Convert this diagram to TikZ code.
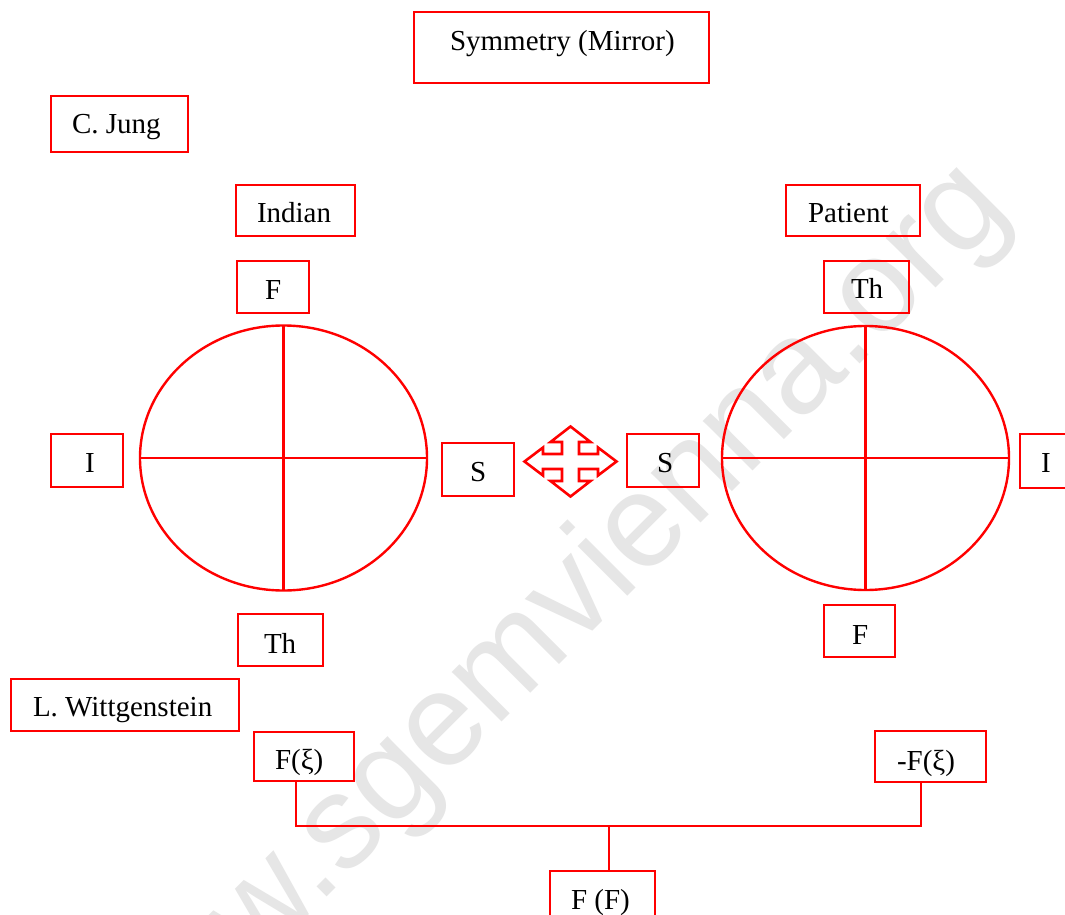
\documentclass[tikz,border=0pt]{standalone}
\usepackage{fontspec}
\setmainfont{Liberation Serif}
\newfontfamily\wmfont{Liberation Sans}
\usetikzlibrary{shapes.geometric}
\definecolor{lred}{RGB}{255,0,0}
\definecolor{wm}{RGB}{230,230,230}
\tikzset{
  box/.style={draw=lred, line width=2.7pt, rectangle, inner sep=0pt, outer sep=0pt},
  txt/.style={inner sep=0pt, outer sep=0pt, font=\fontsize{29}{34}\selectfont, text=black},
  oval/.style={draw=lred, line width=2.4pt, ellipse, inner sep=0pt, outer sep=0pt},
  rline/.style={draw=lred, line width=2.4pt},
}
\newcommand\bx[8]{%
  \node[box, minimum width={#4-#2}, minimum height={#5-#3}] (#1) at ({(#2+#4)/2},{(#3+#5)/2}) {};
  \node[txt, anchor=base west] (#1-t) at (#6,#7) {#8};}
\begin{document}
\begin{tikzpicture}[x=1pt,y=-1pt]
\clip (0,0) rectangle (1065,915);
\fill[white] (0,0) rectangle (1065,915);
% watermark
\node[text=wm, font=\wmfont\fontsize{133}{140}\selectfont, rotate=45, anchor=base, inner sep=0pt] (wmark) at (566.5,657.5) {www.sgemvienna.org};
% boxes
\bx{sym}{414}{12}{709}{83}{450}{51}{Symmetry (Mirror)}
\bx{jung}{51}{96}{188}{152}{72}{133}{C. Jung}
\bx{indian}{236}{185}{355}{236}{257}{222}{Indian}
\bx{fL}{237}{261}{309}{313}{265}{299}{F}
\bx{iL}{51}{434}{123}{487}{85}{472}{I}
\bx{sL}{442}{443}{514}{496}{470}{481}{S}
\bx{thL}{238}{614}{323}{666}{264}{653}{Th}
\bx{witt}{11}{679}{239}{731}{33}{716}{L. Wittgenstein}
\bx{fxi}{254}{732}{354}{781}{275}{769}{F(ξ)}
\bx{nfxi}{875}{731}{986}{782}{897}{770}{-F(ξ)}
\bx{ff}{550}{871}{655}{923}{571}{909}{F (F)}
\bx{patient}{786}{185}{920}{236}{808}{222}{Patient}
\bx{thR}{824}{261}{909}{313}{851}{298}{Th}
\bx{sR}{627}{434}{699}{487}{657}{472}{S}
\bx{iR}{1020}{434}{1092}{488}{1041}{472}{I}
\bx{fR}{824}{605}{895}{657}{852}{644}{F}
% ellipses with crosses
\node[oval, minimum width=287, minimum height=265] (eL) at (283.5,458) {};
\draw[rline] (eL.north) -- (eL.south);
\draw[rline] (eL.west) -- (eL.east);
\node[oval, minimum width=287, minimum height=264] (eR) at (865.5,458) {};
\draw[rline] (eR.north) -- (eR.south);
\draw[rline] (eR.west) -- (eR.east);
% four-way arrow
\draw[rline, line width=2.6pt, line join=miter, shift={(570.5,461.5)}]
  (0,-35) -- (20,-19.5) -- (8.5,-19.5) -- (8.5,-7.5) -- (27.5,-7.5) -- (27.5,-14) -- (46,0)
  -- (27.5,14) -- (27.5,7.5) -- (8.5,7.5) -- (8.5,19.5) -- (20,19.5) -- (0,35)
  -- (-20,19.5) -- (-8.5,19.5) -- (-8.5,7.5) -- (-27.5,7.5) -- (-27.5,14) -- (-46,0)
  -- (-27.5,-14) -- (-27.5,-7.5) -- (-8.5,-7.5) -- (-8.5,-19.5) -- (-20,-19.5) -- cycle;
% Wittgenstein connectors
\coordinate (c1) at (296,826);
\coordinate (c2) at (921,826);
\coordinate (j) at (609,826);
\draw[rline, line join=miter] (fxi.south -| c1) -- (c1) -- (c2) -- (nfxi.south -| c2);
\draw[rline] (j) -- (ff.north -| j);
\end{tikzpicture}
\end{document}
